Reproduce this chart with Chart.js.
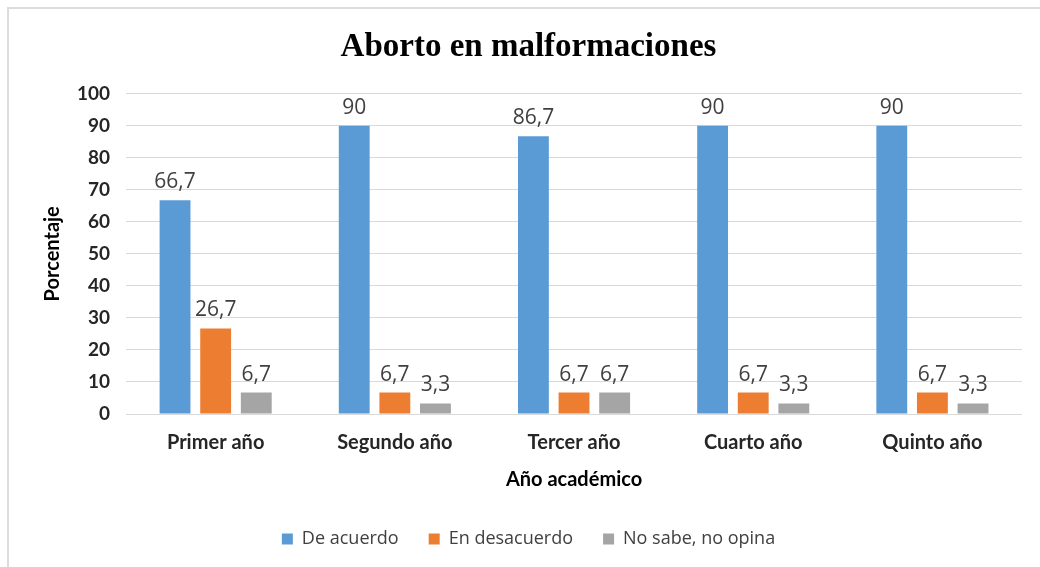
<!DOCTYPE html>
<html>
<head>
<meta charset="utf-8">
<script src="https://cdn.jsdelivr.net/npm/chart.js@4.4.0/dist/chart.umd.min.js"></script>
<style>
    body { margin: 0; background: #fff; }
    #wrap { position: absolute; left: 0; top: 0; width: 1040px; height: 567px; }
    #frame { position: absolute; left: 7px; top: 7px; right: 0; bottom: 0;
             border-top: 2px solid #dcdcdc; border-left: 2px solid #dcdcdc; pointer-events: none; }
</style>
</head>
<body>
<div id="wrap">
    <canvas id="aborto"></canvas>
    <div id="frame"></div>
</div>
<script>
var categories = ['Primer año', 'Segundo año', 'Tercer año', 'Cuarto año', 'Quinto año'];
var deAcuerdo = [66.7, 90, 86.7, 90, 90];
var enDesacuerdo = [26.7, 6.7, 6.7, 6.7, 6.7];
var noSabe = [6.7, 3.3, 6.7, 3.3, 3.3];
var yTicks = [0, 10, 20, 30, 40, 50, 60, 70, 80, 90, 100];

// etiquetas encima de cada barra, con coma decimal
var barLabels = {
    id: 'barLabels',
    afterDatasetsDraw: function (chart) {
        var ctx = chart.ctx;
        ctx.save();
        ctx.font = '21px "Open Sans"';
        ctx.fillStyle = '#404040';
        ctx.textAlign = 'center';
        ctx.textBaseline = 'alphabetic';
        chart.data.datasets.forEach(function (ds, i) {
            var meta = chart.getDatasetMeta(i);
            meta.data.forEach(function (bar, j) {
                var txt = String(ds.data[j]).replace('.', ',');
                ctx.fillText(txt, bar.x, bar.y - 12);
            });
        });
        ctx.restore();
    }
};

new Chart(document.getElementById('aborto'), {
    type: 'bar',
    data: {
        labels: categories,
        datasets: [
            { label: 'De acuerdo', data: deAcuerdo, backgroundColor: '#5B9BD5' },
            { label: 'En desacuerdo', data: enDesacuerdo, backgroundColor: '#ED7D31' },
            { label: 'No sabe, no opina', data: noSabe, backgroundColor: '#A5A5A5' }
        ]
    },
    options: {
        responsive: true,
        maintainAspectRatio: false,
        animation: false,
        barPercentage: 0.76,
        categoryPercentage: 0.68,
        layout: { padding: { left: 35, right: 18, top: 0, bottom: 9 } },
        plugins: {
            tooltip: { enabled: false },
            title: {
                display: true,
                text: 'Aborto en malformaciones',
                color: '#000',
                font: { family: '"Liberation Serif"', size: 33, weight: 'bold' },
                padding: { top: 28, bottom: 26 }
            },
            legend: {
                position: 'bottom',
                labels: {
                    boxWidth: 11,
                    boxHeight: 11,
                    padding: 30,
                    color: '#404040',
                    font: { family: '"Open Sans"', size: 18 }
                }
            }
        },
        scales: {
            x: {
                grid: { display: false },
                border: { display: false },
                ticks: { color: '#262626', font: { family: 'Lato', size: 20, weight: 'bold' }, padding: 9 },
                title: {
                    display: true, text: 'Año académico', color: '#000',
                    font: { family: 'Lato', size: 20, weight: 'bold' }, padding: { top: 4, bottom: 8 }
                }
            },
            y: {
                min: 0,
                max: 100,
                afterBuildTicks: function (axis) {
                    axis.ticks = yTicks.map(function (v) { return { value: v }; });
                },
                grid: { color: '#d9d9d9', lineWidth: 1, drawTicks: false },
                border: { display: false },
                ticks: { color: '#262626', font: { family: 'Lato', size: 19, weight: 'bold' }, padding: 16 },
                title: {
                    display: true, text: 'Porcentaje', color: '#000',
                    font: { family: 'Lato', size: 20, weight: 'bold' }, padding: { top: 6, bottom: -4 }
                }
            }
        }
    },
    plugins: [barLabels]
});
</script>
</body>
</html>
